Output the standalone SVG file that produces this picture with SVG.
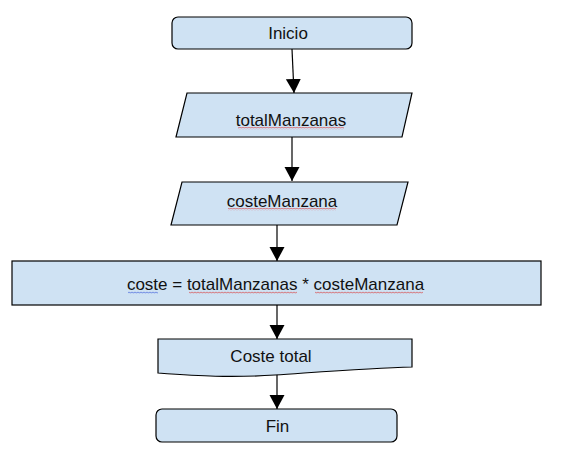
<svg xmlns="http://www.w3.org/2000/svg" width="569" height="465" viewBox="0 0 569 465">
  <style>
    .box { fill: #cfe2f3; stroke: #000; stroke-width: 1.2; }
    .lbl { font-family: "Liberation Sans", Arial, sans-serif; font-size: 17px; fill: #111; text-anchor: middle; }
    .conn { stroke: #000; stroke-width: 1.2; fill: none; marker-end: url(#arrow); }
    .sq-red { fill: url(#squigRed); }
    .sq-blue { fill: url(#squigBlue); }
  </style>
  <defs>
    <marker id="arrow" markerUnits="userSpaceOnUse" markerWidth="16" markerHeight="16" viewBox="0 0 16 16" refX="14" refY="8" orient="auto">
      <path d="M0,0.5 L14,8 L0,15.5 Z" fill="#000"/>
    </marker>
    <pattern id="squigRed" patternUnits="userSpaceOnUse" width="3" height="3">
      <path d="M0,0.7 L1.5,2.2 L3,0.7" stroke="#d83b3b" stroke-width="0.8" fill="none"/>
    </pattern>
    <pattern id="squigBlue" patternUnits="userSpaceOnUse" width="3" height="3">
      <path d="M0,0.7 L1.5,2.2 L3,0.7" stroke="#3b5bd8" stroke-width="0.8" fill="none"/>
    </pattern>
  </defs>
  <rect width="569" height="465" fill="#fff"/>

  <g id="connectors">
    <path class="conn" d="M292,49 L294,93"/>
    <path class="conn" d="M292,137 L292,181"/>
    <path class="conn" d="M277,225 L277,261"/>
    <path class="conn" d="M277,305 L277,339"/>
    <path class="conn" d="M277,374 L277,409"/>
  </g>

  <g id="inicio">
    <rect class="box" x="172" y="17" width="240" height="32" rx="6"/>
    <text class="lbl" x="288" y="39">Inicio</text>
  </g>

  <g id="totalManzanas">
    <path class="box" d="M187,93 L412,93 L402,137 L176,137 Z"/>
    <text class="lbl" x="291" y="126">totalManzanas</text>
    <rect class="sq-red" x="238" y="127" width="106" height="3"/>
  </g>

  <g id="costeManzana">
    <path class="box" d="M182,182 L408,182 L397,225 L171,225 Z"/>
    <text class="lbl" x="282" y="207">costeManzana</text>
    <rect class="sq-red" x="228" y="208" width="108" height="3"/>
  </g>

  <g id="calculo">
    <rect class="box" x="12" y="261" width="529" height="44"/>
    <text class="lbl" x="275.5" y="290">coste = totalManzanas * costeManzana</text>
    <rect class="sq-blue" x="128" y="291" width="30" height="3"/>
    <rect class="sq-red" x="189" y="291" width="108" height="3"/>
    <rect class="sq-red" x="315" y="291" width="108" height="3"/>
  </g>

  <g id="costeTotal">
    <path class="box" d="M158,339 L412,339 L412,367 C370,368 320,372 275,375 C230,378 200,376 158,373 Z"/>
    <text class="lbl" x="271" y="362">Coste total</text>
  </g>

  <g id="fin">
    <rect class="box" x="156" y="409" width="241" height="33" rx="6"/>
    <text class="lbl" x="277.5" y="432">Fin</text>
  </g>
</svg>
